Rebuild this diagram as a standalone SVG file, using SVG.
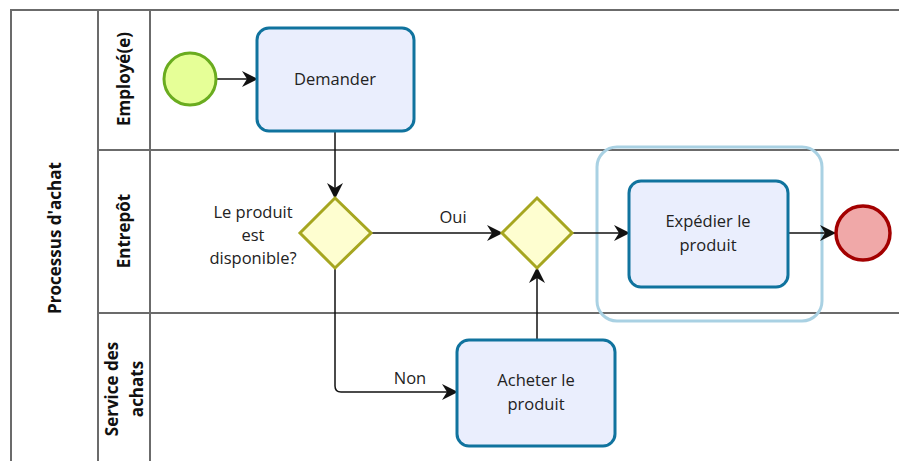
<svg xmlns="http://www.w3.org/2000/svg" width="899" height="461" viewBox="0 0 899 461">
<defs>
<style>
.lane{fill:none;stroke:#6b6b6b;stroke-width:2}
.lbl{font-family:"Open Sans","Noto Sans",sans-serif;font-weight:bold;font-size:17px;fill:#111;text-anchor:middle}
.txt{font-family:"Open Sans","Noto Sans",sans-serif;font-size:16.5px;fill:#222;text-anchor:middle}
.task{fill:#eaeefd;stroke:#10739e;stroke-width:3}
.gw{fill:#fefed0;stroke:#a6a620;stroke-width:3}
.edge{fill:none;stroke:#111;stroke-width:1.5}
</style>
<marker id="arr" markerWidth="18" markerHeight="18" refX="15" refY="9" orient="auto" markerUnits="userSpaceOnUse">
<path d="M0,1 L16,9 L0,17 L5,9 Z" fill="#111"/>
</marker>
</defs>
<rect width="899" height="461" fill="#fff"/>
<g id="pool">
<rect class="lane" x="11" y="10" width="900" height="470"/>
<line class="lane" x1="98" y1="10" x2="98" y2="470"/>
<line class="lane" x1="150" y1="10" x2="150" y2="470"/>
<line class="lane" x1="98" y1="150" x2="899" y2="150"/>
<line class="lane" x1="98" y1="313" x2="899" y2="313"/>
<text class="lbl" transform="translate(61,238) rotate(-90)">Processus d'achat</text>
<text class="lbl" transform="translate(130,79) rotate(-90)">Employé(e)</text>
<text class="lbl" transform="translate(130,231) rotate(-90)">Entrepôt</text>
<text class="lbl" transform="translate(124,389) rotate(-90)"><tspan x="0" y="-6">Service des</tspan><tspan x="0" y="19">achats</tspan></text>
</g>
<g id="group">
<rect x="597" y="147" width="225" height="174" rx="20" fill="none" stroke="#a9d1e3" stroke-width="3"/>
</g>
<g id="connectors">
<line class="edge" x1="217" y1="79" x2="257" y2="79" marker-end="url(#arr)"/>
<line class="edge" x1="335" y1="131" x2="335" y2="198" marker-end="url(#arr)"/>
<line class="edge" x1="371" y1="233" x2="502" y2="233" marker-end="url(#arr)"/>
<line class="edge" x1="572" y1="233" x2="629" y2="233" marker-end="url(#arr)"/>
<line class="edge" x1="788" y1="233" x2="835" y2="233" marker-end="url(#arr)"/>
<path class="edge" d="M335,268 L335,386 Q335,392 341,392 L457,392" marker-end="url(#arr)"/>
<line class="edge" x1="537" y1="340" x2="537" y2="268" marker-end="url(#arr)"/>
<text class="txt" x="453" y="223">Oui</text>
<text class="txt" x="410" y="384">Non</text>
</g>
<g id="start">
<circle cx="190" cy="79" r="26" fill="#e6ff97" stroke="#6aac1f" stroke-width="3"/>
</g>
<g id="demander">
<rect class="task" x="257" y="28" width="157" height="103" rx="12"/>
<text class="txt" x="335" y="85">Demander</text>
</g>
<g id="gw1">
<polygon class="gw" points="335,198 371,233 335,268 300,233"/>
<text class="txt" x="253" y="218">Le produit</text>
<text class="txt" x="253" y="241">est</text>
<text class="txt" x="253" y="264">disponible?</text>
</g>
<g id="gw2">
<polygon class="gw" points="537,198 572,233 537,268 502,233"/>
</g>
<g id="expedier">
<rect class="task" x="629" y="181" width="159" height="106" rx="12"/>
<text class="txt" x="708" y="227">Expédier le</text>
<text class="txt" x="708" y="251">produit</text>
</g>
<g id="end">
<circle cx="863" cy="233" r="27" fill="#f0a8a8" stroke="#a30000" stroke-width="3.5"/>
</g>
<g id="acheter">
<rect class="task" x="457" y="340" width="158" height="106" rx="12"/>
<text class="txt" x="536" y="386">Acheter le</text>
<text class="txt" x="536" y="410">produit</text>
</g>
</svg>
